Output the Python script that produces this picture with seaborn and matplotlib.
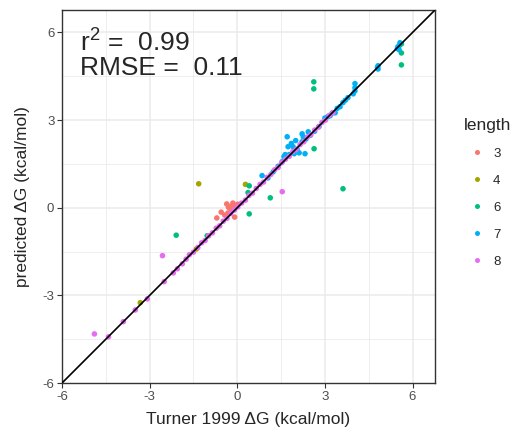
import numpy as np
import pandas as pd
import matplotlib
matplotlib.use("Agg")
import matplotlib.pyplot as plt
import seaborn as sns

sns.set_theme(style="white")
plt.rcParams['font.family'] = ['Liberation Sans', 'DejaVu Sans']
plt.rcParams['mathtext.default'] = 'regular'
plt.rcParams['axes.unicode_minus'] = False

LEVELS = ['3', '4', '6', '7', '8']
PALETTE = {'3': '#F8766D', '4': '#A3A500', '6': '#00BF7D', '7': '#00B0F6', '8': '#E76BF3'}

# length 3 (red cluster near zero)
len3_x = [-0.70, -0.43, -0.36, -0.32, -0.26, -0.19, -0.15, -0.09, -0.55, -0.22, -0.05, 0.02, -0.30, -0.12]
len3_y = [-0.35, -0.25, 0.13, -0.18, -0.01, -0.08, 0.16, -0.32, -0.15, 0.05, 0.08, 0.12, 0.02, -0.02]

# length 4
len4_x = [-3.32, -1.40, -1.32, 0.28]
len4_y = [-3.25, -1.41, 0.82, 0.80]

# length 6
len6_x = [-2.09, -1.03, 0.41, 0.41, 0.37, 1.13, 2.63, 2.62, 2.62, 3.62, 5.62, 5.55, 5.62, 5.62]
len6_y = [-0.94, -0.96, -0.21, 0.75, 0.52, 0.34, 2.02, 4.31, 4.07, 0.65, 5.61, 5.55, 5.30, 4.89]

# length 7
len7_x = [0.85, 1.05, 1.23, 1.40, 1.54, 1.64, 1.71, 1.74, 1.78, 1.91, 1.95, 2.05, 2.12, 2.22, 2.22, 2.26,
          2.32, 2.43, 2.50, 2.65, 2.80, 3.00, 3.10, 3.18, 3.25, 3.35, 3.42, 3.52, 3.62, 3.70, 3.79, 3.97,
          4.03, 4.03, 4.03, 4.80, 4.82, 4.82, 5.50, 5.54, 5.57, 5.48, 1.60, 1.85, 2.00, 2.35]
len7_y = [1.10, 1.02, 1.23, 1.42, 1.58, 1.82, 2.43, 2.09, 1.82, 2.09, 1.85, 2.00, 1.88, 2.53, 2.26, 2.43,
          1.85, 2.60, 2.48, 2.62, 2.78, 3.07, 3.12, 3.15, 3.24, 3.25, 3.40, 3.46, 3.60, 3.68, 3.77, 3.90,
          4.25, 4.11, 4.00, 4.80, 4.86, 4.75, 5.51, 5.41, 5.65, 5.45, 1.75, 2.20, 2.30, 2.35]

# length 8 (tight band along the diagonal)
len8_x = [-4.89, -4.41, -3.90, -3.49, -3.08, -2.56, -2.50, -2.19, -2.05, -1.88, -1.75, -1.64, -1.50, -1.35,
          -1.22, -1.10, -0.98, -0.85, -0.72, -0.60, -0.48, -0.35, -0.22, -0.10, 0.02, 0.15, 0.28, 0.40,
          0.52, 0.65, 0.78, 0.90, 1.02, 1.15, 1.28, 1.40, 1.52, 1.54, 1.65, 1.78, 1.90, 2.02, 2.15, 2.28,
          2.40, 2.52, 2.65, 2.78, 2.90, 3.02, 3.15, 3.28]
len8_y = [-4.32, -4.42, -3.90, -3.50, -3.12, -1.64, -2.53, -2.23, -2.09, -1.92, -1.76, -1.61, -1.52, -1.36,
          -1.20, -1.12, -0.96, -0.86, -0.70, -0.62, -0.46, -0.36, -0.20, -0.08, 0.03, 0.16, 0.26, 0.42,
          0.50, 0.66, 0.80, 0.88, 1.04, 1.14, 1.30, 1.38, 1.54, 0.55, 1.66, 1.76, 1.92, 2.00, 2.16, 2.26,
          2.42, 2.50, 2.66, 2.76, 2.92, 3.00, 3.16, 3.26]

r2_text = '0.99'
rmse_text = '0.11'

frames = []
for lev, xs, ys in [('3', len3_x, len3_y), ('4', len4_x, len4_y), ('6', len6_x, len6_y),
                    ('7', len7_x, len7_y), ('8', len8_x, len8_y)]:
    frames.append(pd.DataFrame({'turner': xs, 'predicted': ys, 'length': lev}))
df = pd.concat(frames, ignore_index=True)

fig = plt.figure(figsize=(5.13, 4.28), dpi=100)
ax = fig.add_axes([62 / 513, 45 / 428, 373 / 513, 373 / 428])

lim = (-6, 6.77)
ax.set_xlim(lim)
ax.set_ylim(lim)

# ggplot-like grid
for v in [-4.5, -1.5, 1.5, 4.5]:
    ax.axvline(v, color='#EBEBEB', lw=0.6, zorder=0)
    ax.axhline(v, color='#EBEBEB', lw=0.6, zorder=0)
for v in [-3, 0, 3, 6]:
    ax.axvline(v, color='#EBEBEB', lw=1.1, zorder=0)
    ax.axhline(v, color='#EBEBEB', lw=1.1, zorder=0)

sns.scatterplot(data=df, x='turner', y='predicted', hue='length', hue_order=LEVELS,
                palette=PALETTE, s=16, linewidth=0, ax=ax, zorder=2)

ax.plot(lim, lim, color='black', lw=1.2, zorder=3)

ax.set_xticks([-6, -3, 0, 3, 6])
ax.set_yticks([-6, -3, 0, 3, 6])
ax.tick_params(axis='both', labelsize=9.5, colors='#333333', labelcolor='#4D4D4D',
               length=3.5, width=0.8, direction='out', pad=2)
ax.tick_params(left=True, bottom=True)
for sp in ax.spines.values():
    sp.set_color('#333333')
    sp.set_linewidth(1.0)

ax.set_xlabel('Turner 1999 \u0394G (kcal/mol)', fontsize=12.5, labelpad=7)
ax.set_ylabel('predicted \u0394G (kcal/mol)', fontsize=12.5, labelpad=9)

ax.text(-5.4, 5.34, 'r$^{2}$ =  ' + r2_text, fontsize=19, va='baseline', ha='left', zorder=4)
ax.text(-5.4, 4.55, 'RMSE =  ' + rmse_text, fontsize=19, va='baseline', ha='left', zorder=4)

sns.move_legend(ax, 'upper left', bbox_to_anchor=(464 / 513, (428 - 118) / 428),
                bbox_transform=fig.transFigure, frameon=False,
                title='length', fontsize=9.5, title_fontsize=12.4, borderpad=0, borderaxespad=0,
                handlelength=2.0, handletextpad=0.2, labelspacing=1.12, markerscale=0.9)
ax.get_legend()._legend_box.align = 'left'

fig.savefig('out.png', dpi=100)
